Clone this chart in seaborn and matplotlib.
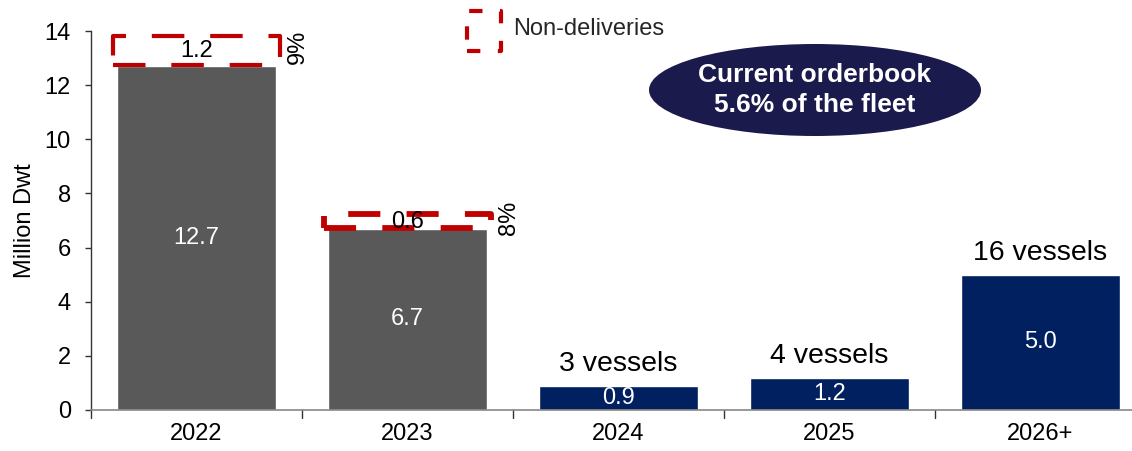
import matplotlib
matplotlib.use("Agg")
import matplotlib.pyplot as plt
import seaborn as sns
import pandas as pd
from matplotlib.patches import Rectangle, Ellipse

years = ["2022", "2023", "2024", "2025", "2026+"]
deliveries = [12.7, 6.7, 0.9, 1.2, 5.0]
non_deliveries = [1.2, 0.6, None, None, None]
non_delivery_pct = ["9%", "8%", None, None, None]
vessels = [None, None, 3, 4, 16]
status = ["Delivered", "Delivered", "Orderbook", "Orderbook", "Orderbook"]

GRAY = "#595959"
NAVY = "#002060"
RED = "#C00000"
ELLIPSE = "#1B1A4C"
box_lw = [3.0, 4.2]
box_dash = [(0, (7.8, 6.2)), (0, (5.5, 4.5))]

sns.set_theme(style="white")
plt.rcParams["font.family"] = ["Liberation Sans", "DejaVu Sans"]

df = pd.DataFrame({"year": years, "dwt": deliveries, "status": status})

fig = plt.figure(figsize=(11.32, 4.51), dpi=100)
ax = fig.add_axes([91 / 1132, 41 / 451, 1 - 91 / 1132, 379 / 451])

sns.barplot(data=df, x="year", y="dwt", hue="status",
            palette={"Delivered": GRAY, "Orderbook": NAVY},
            dodge=False, width=0.755, saturation=1, legend=False, ax=ax)

ax.set_ylim(0, 14)
ax.set_xlim(-0.5, -0.5 + (1132 - 91) / 211)
ax.set_yticks(range(0, 15, 2))
ax.tick_params(axis="y", labelsize=17, length=4.5, width=1, color="#333333",
               direction="out", left=True, pad=10, labelcolor="black")
ax.set_ylabel("Million Dwt", fontsize=17, labelpad=6, color="black")
ax.set_xlabel("")

# x ticks at category boundaries, labels at centers
ax.set_xticks(range(len(years)))
ax.set_xticklabels(years, fontsize=17, color="black")
ax.tick_params(axis="x", length=0, pad=9)
for b in [-0.5] + [0.5 + i for i in range(len(years) - 1)]:
    ax.plot([b, b], [0, -0.28], color="#333333", lw=1, clip_on=False)

for s in ["top", "right"]:
    ax.spines[s].set_visible(False)
ax.spines["left"].set_color("#333333")
ax.spines["bottom"].set_color("#888888")
ax.spines["left"].set_linewidth(1)
ax.spines["bottom"].set_linewidth(1.2)

# values inside bars
for i, v in enumerate(deliveries):
    ax.text(i, v / 2, f"{v:.1f}", ha="center", va="center", color="white", fontsize=17)

# vessel labels
for i, n in enumerate(vessels):
    if n is not None:
        ax.text(i, deliveries[i] + 0.55, f"{n} vessels", ha="center", va="baseline",
                color="black", fontsize=20.5)

# non-delivery dashed boxes
k = 0
for i, nd in enumerate(non_deliveries):
    if nd is not None:
        base = deliveries[i]
        rect = Rectangle((i - 0.395, base + 0.03), 0.79, nd - 0.1, fill=False,
                         edgecolor=RED, lw=box_lw[k], linestyle=box_dash[k],
                         joinstyle="round", capstyle="butt", zorder=5)
        ax.add_patch(rect)
        ax.text(i, base + nd / 2 - 0.05, f"{nd:.1f}", ha="center", va="center",
                fontsize=17, color="black", zorder=6)
        ax.text(i + 0.48, base + nd / 2 + 0.1, non_delivery_pct[i], rotation=90,
                ha="center", va="center", fontsize=17, color="black")
        k += 1

# legend
fig.patches.append(Rectangle((467 / 1132, 1 - 51 / 451), 34 / 1132, 40 / 451,
                             transform=fig.transFigure, fill=False, edgecolor=RED,
                             lw=3, linestyle=(0, (3.2, 4.2)), joinstyle="round"))
fig.text(513 / 1132, 1 - 29 / 451, "Non-deliveries", ha="left", va="center", fontsize=17)

# ellipse annotation
ell = Ellipse((815 / 1132, 1 - 90 / 451), 332 / 1132, 92 / 451,
              transform=fig.transFigure, facecolor=ELLIPSE, edgecolor="none")
fig.patches.append(ell)
fig.text(815 / 1132, 1 - 90 / 451, "Current orderbook\n5.6% of the fleet",
         ha="center", va="center", fontsize=19, fontweight="bold", color="white",
         linespacing=1.3)

fig.savefig("out.png", dpi=100)
